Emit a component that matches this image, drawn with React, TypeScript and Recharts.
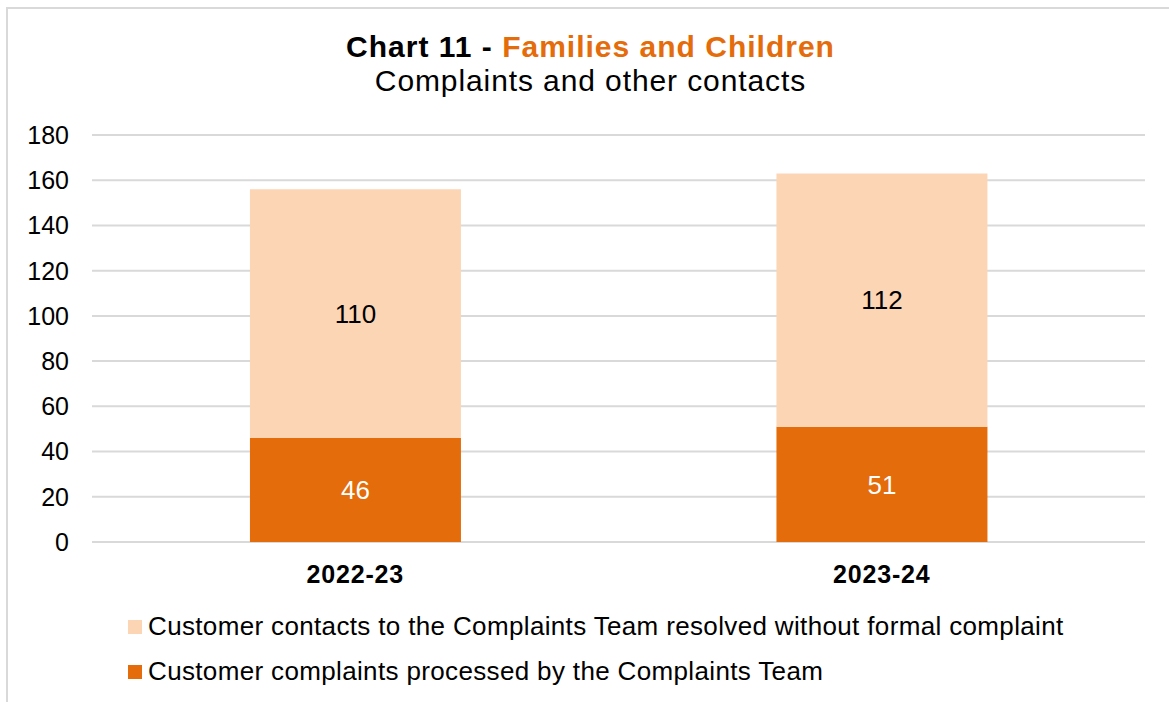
import { BarChart, Bar, XAxis, YAxis, CartesianGrid, LabelList, Legend } from "recharts";

const years = ["2022-23", "2023-24"];
const complaints = [46, 51];
const otherContacts = [110, 112];
const yTicks = [0, 20, 40, 60, 80, 100, 120, 140, 160, 180];

const DARK = "#E46C0A";
const LIGHT = "#FCD5B5";
const FONT = "'Liberation Sans', Arial, sans-serif";

const data = years.map((y, i) => ({
  year: y,
  complaints: complaints[i],
  contacts: otherContacts[i],
}));

const legendItems = [
  { label: "Customer contacts to the Complaints Team resolved without formal complaint", color: LIGHT },
  { label: "Customer complaints processed by the Complaints Team", color: DARK },
];

function LegendBox() {
  return (
    <div style={{ fontFamily: FONT, fontSize: 26, letterSpacing: 0.35, color: "#000", whiteSpace: "nowrap" }}>
      {legendItems.map((it) => (
        <div key={it.label} style={{ display: "flex", alignItems: "center", height: 45 }}>
          <span style={{ width: 14, height: 14, background: it.color, marginRight: 6, display: "inline-block" }} />
          <span>{it.label}</span>
        </div>
      ))}
    </div>
  );
}

export default function App() {
  return (
    <div style={{ position: "absolute", left: 0, top: 0, width: 1169, height: 702, overflow: "hidden", background: "#fff" }}>
      <div style={{ position: "absolute", left: 6, top: 7, width: 1300, height: 900, border: "2px solid #d9d9d9" }} />
      <div style={{ position: "absolute", left: 0, top: 30, width: 1181, textAlign: "center", fontFamily: FONT, fontSize: 30, lineHeight: "34px" }}>
        <div style={{ fontWeight: "bold", letterSpacing: 1 }}>
          Chart 11 - <span style={{ color: DARK }}>Families and Children</span>
        </div>
        <div style={{ letterSpacing: 0.9 }}>Complaints and other contacts</div>
      </div>
      <div style={{ position: "absolute", left: 0, top: 0 }}>
        <BarChart
          width={1169}
          height={702}
          data={data}
          margin={{ top: 135, right: 24, left: 32, bottom: 130 }}
          barCategoryGap="30%"
        >
          <CartesianGrid vertical={false} stroke="#d9d9d9" strokeWidth={2} />
          <XAxis
            dataKey="year"
            axisLine={false}
            tickLine={false}
            tickSize={0}
            tickMargin={23}
            tick={{ fontFamily: FONT, fontSize: 25, fontWeight: "bold", fill: "#000", letterSpacing: 0.8 }}
          />
          <YAxis
            width={60}
            domain={[0, 180]}
            ticks={yTicks}
            axisLine={false}
            tickLine={false}
            tickSize={0}
            tickMargin={23}
            tick={{ fontFamily: FONT, fontSize: 25, fill: "#000" }}
          />
          <Legend
            layout="vertical"
            align="center"
            verticalAlign="middle"
            wrapperStyle={{ top: 604, left: 128, width: "auto" }}
            content={() => <LegendBox />}
          />
          <Bar dataKey="complaints" stackId="a" fill={DARK} isAnimationActive={false}>
            <LabelList dataKey="complaints" position="center" fill="#fff" style={{ fontFamily: FONT, fontSize: 26 }} />
          </Bar>
          <Bar dataKey="contacts" stackId="a" fill={LIGHT} isAnimationActive={false}>
            <LabelList dataKey="contacts" position="center" fill="#000" style={{ fontFamily: FONT, fontSize: 26 }} />
          </Bar>
        </BarChart>
      </div>
    </div>
  );
}
